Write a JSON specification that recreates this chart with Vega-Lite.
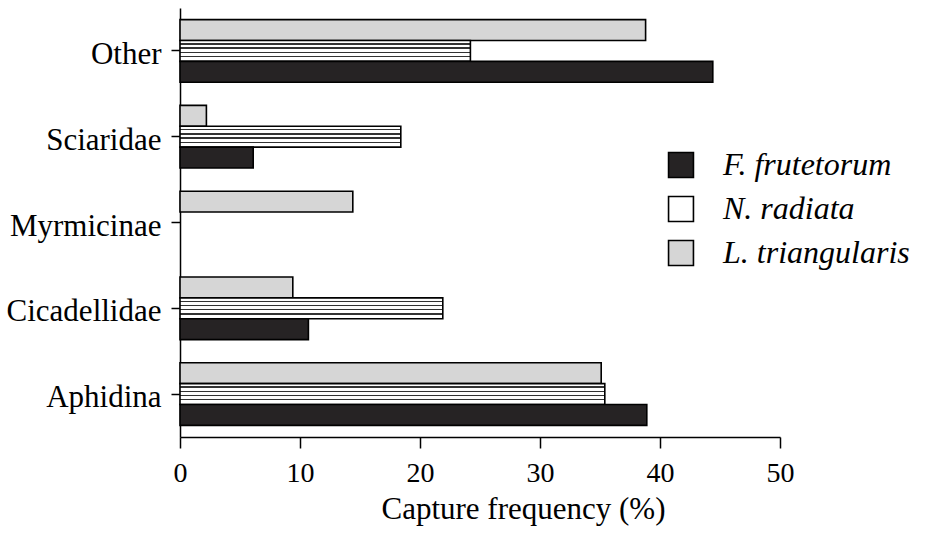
{
  "$schema": "https://vega.github.io/schema/vega-lite/v6.json",
  "width": 600,
  "height": 429,
  "autosize": {"type": "none"},
  "padding": {"left": 180, "top": 8, "right": 145, "bottom": 99},
  "background": "white",
  "config": {
    "font": "Liberation Serif",
    "view": {"stroke": null},
    "axis": {
      "grid": false,
      "domainColor": "black",
      "tickColor": "black",
      "labelColor": "black",
      "titleColor": "black",
      "labelFont": "Liberation Serif",
      "titleFont": "Liberation Serif",
      "labelFontSize": 30,
      "titleFontSize": 31,
      "titleFontWeight": "normal",
      "domainWidth": 1.5,
      "tickWidth": 1.5
    }
  },
  "data": {
    "values": [
      {"taxon": "Other", "species": "L. triangularis", "freq": 38.8},
      {"taxon": "Other", "species": "N. radiata", "freq": 24.2},
      {"taxon": "Other", "species": "F. frutetorum", "freq": 44.4},
      {"taxon": "Sciaridae", "species": "L. triangularis", "freq": 2.2},
      {"taxon": "Sciaridae", "species": "N. radiata", "freq": 18.4},
      {"taxon": "Sciaridae", "species": "F. frutetorum", "freq": 6.1},
      {"taxon": "Myrmicinae", "species": "L. triangularis", "freq": 14.4},
      {"taxon": "Cicadellidae", "species": "L. triangularis", "freq": 9.4},
      {"taxon": "Cicadellidae", "species": "N. radiata", "freq": 21.9},
      {"taxon": "Cicadellidae", "species": "F. frutetorum", "freq": 10.7},
      {"taxon": "Aphidina", "species": "L. triangularis", "freq": 35.1},
      {"taxon": "Aphidina", "species": "N. radiata", "freq": 35.4},
      {"taxon": "Aphidina", "species": "F. frutetorum", "freq": 38.9}
    ]
  },
  "mark": {"type": "bar", "stroke": "black", "strokeWidth": 1.6},
  "encoding": {
    "y": {
      "field": "taxon",
      "type": "nominal",
      "sort": ["Other", "Sciaridae", "Myrmicinae", "Cicadellidae", "Aphidina"],
      "scale": {"paddingInner": 0.27, "paddingOuter": 0.135},
      "axis": {"title": null, "tickSize": 9, "labelPadding": 10, "labelFontSize": 31, "labelOffset": 4}
    },
    "yOffset": {
      "field": "species",
      "type": "nominal",
      "sort": ["L. triangularis", "N. radiata", "F. frutetorum"],
      "scale": {"paddingInner": 0, "paddingOuter": 0}
    },
    "x": {
      "field": "freq",
      "type": "quantitative",
      "scale": {"domain": [0, 50]},
      "axis": {
        "values": [0, 10, 20, 30, 40, 50],
        "title": "Capture frequency (%)",
        "tickSize": 11,
        "labelFontSize": 28,
        "labelPadding": 11,
        "titleX": 343,
        "titleY": 81,
        "titleBaseline": "alphabetic",
        "titleAlign": "center",
        "labelFlush": false
      }
    },
    "fill": {
      "field": "species",
      "type": "nominal",
      "condition": {
        "test": "datum.species === 'N. radiata'",
        "value": {
          "gradient": "linear",
          "x1": 0, "y1": 0, "x2": 0, "y2": 1,
          "stops": [
            {"offset": 0, "color": "#ffffff"},
            {"offset": 0.13, "color": "#ffffff"},
            {"offset": 0.13, "color": "#333333"},
            {"offset": 0.2, "color": "#333333"},
            {"offset": 0.2, "color": "#ffffff"},
            {"offset": 0.33, "color": "#ffffff"},
            {"offset": 0.33, "color": "#333333"},
            {"offset": 0.4, "color": "#333333"},
            {"offset": 0.4, "color": "#ffffff"},
            {"offset": 0.53, "color": "#ffffff"},
            {"offset": 0.53, "color": "#333333"},
            {"offset": 0.6, "color": "#333333"},
            {"offset": 0.6, "color": "#ffffff"},
            {"offset": 0.73, "color": "#ffffff"},
            {"offset": 0.73, "color": "#333333"},
            {"offset": 0.8, "color": "#333333"},
            {"offset": 0.8, "color": "#ffffff"},
            {"offset": 1, "color": "#ffffff"}
          ]
        }
      },
      "scale": {
        "domain": ["F. frutetorum", "N. radiata", "L. triangularis"],
        "range": ["#262324", "#ffffff", "#d6d6d6"]
      },
      "legend": {
        "title": null,
        "orient": "none",
        "legendX": 485,
        "legendY": 141,
        "symbolType": "square",
        "symbolSize": 620,
        "symbolStrokeColor": "black",
        "symbolStrokeWidth": 1.6,
        "labelFont": "Liberation Serif",
        "labelFontSize": 32,
        "labelFontStyle": "italic",
        "labelColor": "black",
        "labelOffset": 26,
        "rowPadding": 12,
        "labelLimit": 400,
        "encode": {
          "symbols": {
            "update": {
              "stroke": {"value": "black"},
              "strokeWidth": {"value": 1.6},
              "fill": [
                {
                  "test": "datum.value === 'N. radiata'",
                  "value": {
                    "gradient": "linear",
                    "x1": 0, "y1": 0, "x2": 0, "y2": 1,
                    "stops": [
                      {"offset": 0, "color": "#ffffff"},
                      {"offset": 0.14, "color": "#ffffff"},
                      {"offset": 0.14, "color": "#333333"},
                      {"offset": 0.24, "color": "#333333"},
                      {"offset": 0.24, "color": "#ffffff"},
                      {"offset": 0.38, "color": "#ffffff"},
                      {"offset": 0.38, "color": "#333333"},
                      {"offset": 0.48, "color": "#333333"},
                      {"offset": 0.48, "color": "#ffffff"},
                      {"offset": 0.62, "color": "#ffffff"},
                      {"offset": 0.62, "color": "#333333"},
                      {"offset": 0.72, "color": "#333333"},
                      {"offset": 0.72, "color": "#ffffff"},
                      {"offset": 0.86, "color": "#ffffff"},
                      {"offset": 0.86, "color": "#ffffff"},
                      {"offset": 1, "color": "#ffffff"}
                    ]
                  }
                },
                {"scale": "fill", "field": "value"}
              ]
            }
          }
        }
      }
    }
  }
}
